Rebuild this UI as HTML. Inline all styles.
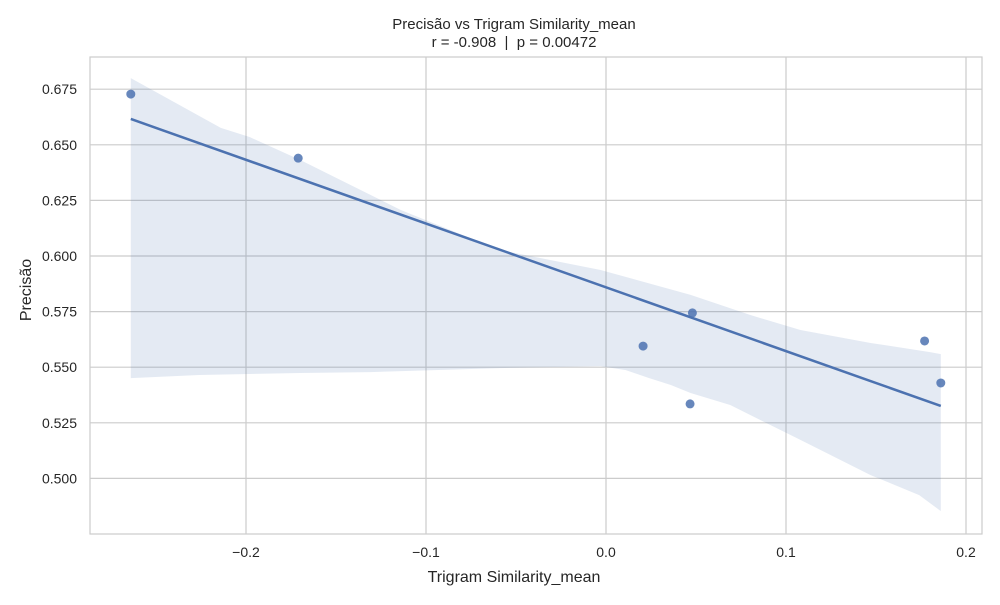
<!DOCTYPE html>
<html><head><meta charset="utf-8"><style>
body{margin:0;background:#fff;}
svg text{font-family:"Liberation Sans","DejaVu Sans",sans-serif;fill:#262626;white-space:pre;}
</style></head><body>
<svg id="chart" width="1000" height="600">
<text x="514" y="29" text-anchor="middle" font-size="15">Precisão vs Trigram Similarity_mean</text>
<text x="514" y="47" text-anchor="middle" font-size="15" xml:space="preserve">r = -0.908  |  p = 0.00472</text>
<text x="514" y="582" text-anchor="middle" font-size="16">Trigram Similarity_mean</text>
<text transform="translate(31,290) rotate(-90)" text-anchor="middle" font-size="16">Precisão</text>
<g id="grid"></g><g id="band"></g><g id="line"></g><g id="pts"></g>
<rect x="90" y="57" width="892" height="477" fill="none" stroke="#cccccc" stroke-width="1.2"/>
</svg>
<script>
const xs=[-0.264,-0.171,0.0206,0.048,0.0467,0.177,0.186];
const ys=[0.6728,0.644,0.5595,0.5744,0.5335,0.5618,0.5429];
const xTicks=[-0.2,-0.1,0.0,0.1,0.2];
const xTickLabels=["−0.2","−0.1","0.0","0.1","0.2"];
const yTicks=[0.5,0.525,0.55,0.575,0.6,0.625,0.65,0.675];
const yTickLabels=["0.500","0.525","0.550","0.575","0.600","0.625","0.650","0.675"];
const upX=[-0.264,-0.214,-0.198,-0.170,-0.114,-0.059,-0.003,0.047,0.080,0.108,0.147,0.180,0.186];
const upY=[0.680,0.6576,0.6535,0.6432,0.6207,0.6027,0.5937,0.5825,0.5735,0.5667,0.5609,0.5568,0.5559];
const loX=[-0.264,-0.226,-0.170,-0.131,-0.059,-0.003,0.011,0.024,0.036,0.047,0.069,0.108,0.147,0.174,0.186];
const loY=[0.5451,0.5465,0.5474,0.5478,0.5496,0.5505,0.5487,0.5451,0.5420,0.5384,0.5330,0.5173,0.5015,0.4925,0.4853];
const X=v=>606+v*1800, Y=v=>256-(v-0.6)*2224;
const NS="http://www.w3.org/2000/svg";
function mk(t,a,p){const e=document.createElementNS(NS,t);for(const k in a)e.setAttribute(k,a[k]);p.appendChild(e);return e;}
const g=document.getElementById('grid');
xTicks.forEach((t,i)=>{
 const l=mk('line',{x1:X(t),x2:X(t),y1:57,y2:534,stroke:'#cccccc','stroke-width':1.2},g);
 
 
 const tx=mk('text',{x:X(t),y:557,'text-anchor':'middle','font-size':14},g);
 tx.textContent=xTickLabels[i];
 
 
});
yTicks.forEach((t,i)=>{
 const l=mk('line',{x1:90,x2:982,y1:Y(t),y2:Y(t),stroke:'#cccccc','stroke-width':1.2},g);
 
 
 const tx=mk('text',{x:77,y:Y(t)+5,'text-anchor':'end','font-size':14},g);
 tx.textContent=yTickLabels[i];
 
 
});
let d='M'+upX.map((x,i)=>X(x)+','+Y(upY[i])).join('L');
for(let i=loX.length-1;i>=0;i--)d+='L'+X(loX[i])+','+Y(loY[i]);
const band=mk('path',{d:d+'Z',fill:'#4c72b0','fill-opacity':0.15},document.getElementById('band'));


const n=xs.length,mx=xs.reduce((a,b)=>a+b)/n,my=ys.reduce((a,b)=>a+b)/n;
let sxy=0,sxx=0;xs.forEach((x,i)=>{sxy+=(x-mx)*(ys[i]-my);sxx+=(x-mx)**2;});
const b=sxy/sxx,a=my-b*mx,x0=Math.min(...xs),x1=Math.max(...xs);
const ln=mk('line',{x1:X(x0),y1:Y(a+b*x0),x2:X(x1),y2:Y(a+b*x1),stroke:'#4c72b0','stroke-width':2.5},document.getElementById('line'));


const pg=document.getElementById('pts');
xs.forEach((x,i)=>{
 const c=mk('circle',{cx:X(x),cy:Y(ys[i]),r:4.5,fill:'#4c72b0','fill-opacity':0.85},pg);
 
 
});
</script>
</body></html>
